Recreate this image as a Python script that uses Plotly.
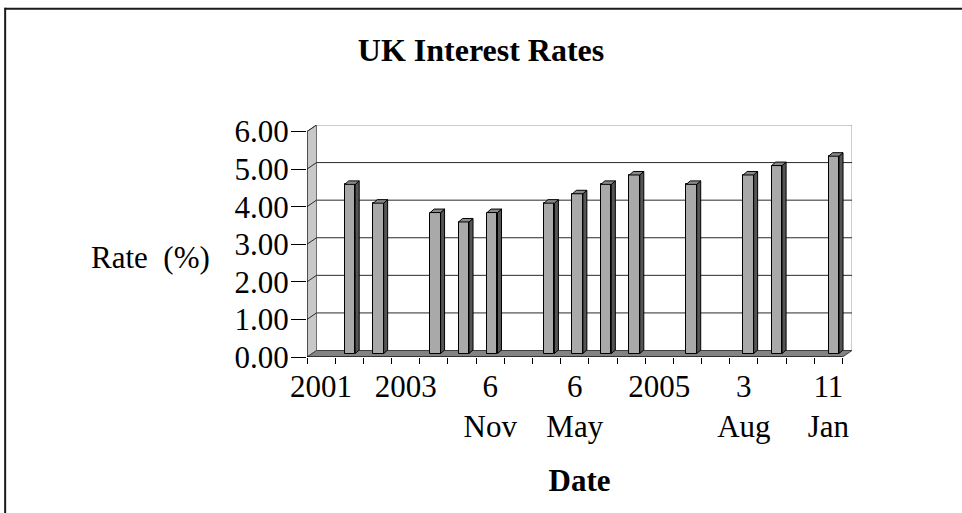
import numpy as np
import plotly.graph_objects as go

# ---------------- data ----------------
categories = ["2001", "4 Oct 2001", "8 Nov 2001", "2003", "6 Feb 2003", "10 Jul 2003",
              "6 Nov 2003", "2004", "5 Feb 2004", "6 May 2004", "10 Jun 2004", "5 Aug 2004",
              "2005", "4 Aug 2005", "2006", "3 Aug 2006", "9 Nov 2006", "2007", "11 Jan 2007"]
rates = [None, 4.50, 4.00, None, 3.75, 3.50, 3.75, None, 4.00, 4.25, 4.50, 4.75,
         None, 4.50, None, 4.75, 5.00, None, 5.25]
label_positions = [0, 3, 6, 9, 12, 15, 18]
tick_labels = ["2001", "2003", "6<br>Nov", "6<br>May", "2005", "3<br>Aug", "11<br>Jan"]
y_ticks = [0, 1, 2, 3, 4, 5, 6]
y_tick_labels = ["0.00", "1.00", "2.00", "3.00", "4.00", "5.00", "6.00"]

# ---------------- geometry (pixels) ----------------
W, H = 962, 513
PX_X, PX_Y = 28.18, 37.67          # pixels per category / per percent
X0, Y0 = 307.3, 357.5              # pixel of x=-0.5, y=0
DX, DY = 9.5, 6.5                  # depth of the 3D box
DXu, DYu = DX / PX_X, DY / PX_Y
n = len(categories)
x_lo, x_hi = -0.5, n - 0.5 + DXu
y_lo, y_hi = 0.0, max(y_ticks) + DYu
plot_w = (x_hi - x_lo) * PX_X
plot_h = (y_hi - y_lo) * PX_Y
m_l = X0
m_r = W - X0 - plot_w
m_b = H - Y0
m_t = Y0 - plot_h

def px2paper_x(px):
    return (px - m_l) / plot_w

def px2paper_y(py):
    return (H - m_b - py) / plot_h

FONT = "Liberation Serif, Times New Roman, serif"
ymax = max(y_ticks)
L, R = -0.5, n - 0.5

shapes = []

def path_shape(pts, fill, line, width=1):
    d = "M " + " L ".join(f"{x},{y}" for x, y in pts) + " Z"
    shapes.append(dict(type="path", path=d, xref="x", yref="y", layer="below",
                       fillcolor=fill, line=dict(color=line, width=width)))

def line_shape(x0, y0, x1, y1, color, width=1):
    shapes.append(dict(type="line", xref="x", yref="y", layer="below",
                       x0=x0, y0=y0, x1=x1, y1=y1, line=dict(color=color, width=width)))

# back wall, left wall, floor
path_shape([(L + DXu, DYu), (R + DXu, DYu), (R + DXu, ymax + DYu), (L + DXu, ymax + DYu)],
           "white", "#9a9a9a")
path_shape([(L, 0), (L, ymax), (L + DXu, ymax + DYu), (L + DXu, DYu)], "#c8c8c8", "#707070")
path_shape([(L, 0), (R, 0), (R + DXu, DYu), (L + DXu, DYu)], "#838383", "#404040")
# gridlines
for v in y_ticks[1:-1]:
    line_shape(L + DXu, v + DYu, R + DXu, v + DYu, "#2a2a2a", 1)
for v in y_ticks[1:]:
    line_shape(L, v, L + DXu, v + DYu, "#2a2a2a", 1)
# axis lines
line_shape(L, 0, L, ymax, "#000000", 1)
line_shape(L, 0, R, 0, "#000000", 1)

# border of the chart area (figure pixels)
shapes.append(dict(type="line", xref="paper", yref="paper",
                   x0=px2paper_x(5), x1=px2paper_x(W + 5), y0=px2paper_y(8.5), y1=px2paper_y(8.5),
                   line=dict(color="#1a1a1a", width=2)))
shapes.append(dict(type="line", xref="paper", yref="paper",
                   x0=px2paper_x(5.5), x1=px2paper_x(5.5), y0=px2paper_y(7.5), y1=px2paper_y(H + 5),
                   line=dict(color="#1a1a1a", width=2)))

fig = go.Figure()

# bars (3D look, slight perspective drift to the right)
BW = 0.37
FOX, SKEW = 0.015, 0.0098
FOY = 3.5 / PX_Y                  # front face offset inside the box
BDX, BDY = 4.0 / PX_X, 3.5 / PX_Y # bar depth
idx = np.array([i for i, v in enumerate(rates) if v is not None], dtype=float)
vals = np.array([v for v in rates if v is not None], dtype=float)
xc = idx + FOX + SKEW * idx
xl, xr = xc - BW / 2, xc + BW / 2

fig.add_trace(go.Bar(x=xc, y=vals, base=FOY, width=BW,
                     marker=dict(color="#a9a9a9", line=dict(color="#000000", width=1)),
                     customdata=[categories[int(i)] for i in idx],
                     hovertemplate="%{customdata}: %{y:.2f}%<extra></extra>",
                     showlegend=False))

side_x, side_y, top_x, top_y = [], [], [], []
for a, b, v in zip(xl, xr, vals):
    side_x += [b, b + BDX, b + BDX, b, b, None]
    side_y += [FOY, FOY + BDY, FOY + v + BDY, FOY + v, FOY, None]
    top_x += [a, b, b + BDX, a + BDX, a, None]
    top_y += [FOY + v, FOY + v, FOY + v + BDY, FOY + v + BDY, FOY + v, None]
fig.add_trace(go.Scatter(x=side_x, y=side_y, mode="lines", fill="toself", fillcolor="#555555",
                         line=dict(color="#000000", width=1), hoverinfo="skip", showlegend=False))
fig.add_trace(go.Scatter(x=top_x, y=top_y, mode="lines", fill="toself", fillcolor="#8a8a8a",
                         line=dict(color="#000000", width=1), hoverinfo="skip", showlegend=False))

fig.update_layout(
    width=W, height=H, autosize=False,
    margin=dict(l=m_l, r=m_r, t=m_t, b=m_b, pad=0),
    paper_bgcolor="white", plot_bgcolor="white",
    font=dict(family=FONT, color="black", size=31),
    title=dict(text="<b>UK Interest Rates</b>", x=0.5, xref="container", xanchor="center",
               y=1 - 50 / H, yref="container", yanchor="middle",
               font=dict(family=FONT, size=32, color="black")),
    xaxis=dict(range=[x_lo, x_hi], tickmode="array", tickvals=label_positions,
               ticktext=tick_labels, ticks="", showgrid=False, zeroline=False,
               showline=False, tickfont=dict(family=FONT, size=31),
               ticklabelstandoff=8,
               minor=dict(tickmode="array", tickvals=[i - 0.5 for i in range(n + 1)],
                          ticks="outside", ticklen=6, tickcolor="#000000", tickwidth=1,
                          showgrid=False),
               title=dict(text="<b>Date</b>", font=dict(family=FONT, size=31), standoff=26)),
    yaxis=dict(range=[y_lo, y_hi], tickmode="array", tickvals=y_ticks,
               ticktext=y_tick_labels, ticks="outside", ticklen=15, tickcolor="#000000",
               tickwidth=1, showgrid=False, zeroline=False, showline=False,
               ticklabelstandoff=-4,
               tickfont=dict(family=FONT, size=31)),
    bargap=0,
    annotations=[dict(text="Rate\u00a0\u00a0(%)", xref="paper", yref="paper",
                      x=px2paper_x(151), y=px2paper_y(258), xanchor="center",
                      yanchor="middle", showarrow=False,
                      font=dict(family=FONT, size=31, color="black"))],
    shapes=shapes,
)

fig.write_html("out.html")
